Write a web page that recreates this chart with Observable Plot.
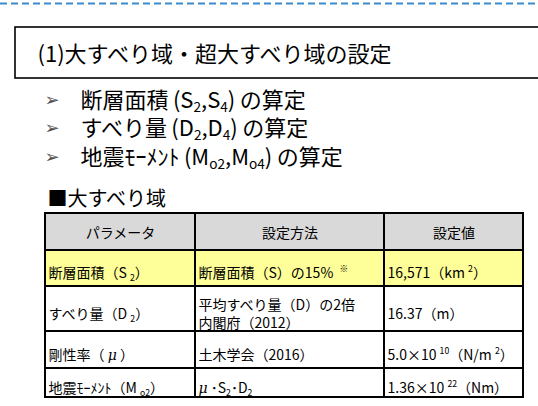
<!DOCTYPE html>
<html>
<head>
<meta charset="utf-8">
<script src="https://cdn.jsdelivr.net/npm/d3@7"></script>
<script src="https://cdn.jsdelivr.net/npm/@observablehq/plot@0.6"></script>
<style>
  html, body { margin: 0; padding: 0; background: #fff; overflow: hidden; }
  #chart svg { display: block; }
</style>
</head>
<body>
<div id="chart"></div>
<script>
// ---- Content (text and values) ----
// Markup: _x / _{xy} = subscript, ^x / ^{xy} = superscript, ~x / ~{xy} = italic
const sectionTitle = "(1)大すべり域・超大すべり域の設定";
const bulletItems = [
  "断層面積\u2009(S_2,S_4)\u2009の算定",
  "すべり量\u2009(D_2,D_4)\u2009の算定",
  "地震ﾓｰﾒﾝﾄ\u2009(M_{o2},M_{o4})\u2009の算定"
];
const bulletSymbol = "➢";
const tableTitle = "■大すべり域";
const headers = ["パラメータ", "設定方法", "設定値"];
const parameters = ["断層面積（S _2）", "すべり量（D _2）", "剛性率（ ~μ ）", "地震ﾓｰﾒﾝﾄ（M _{o2}）"];
const methods = ["断層面積（S）の15%  ^※", "平均すべり量（D）の2倍\n内閣府（2012）", "土木学会（2016）", "~μ ･S_2･D_2"];
const values = ["16,571（km ^2）", "16.37（m）", "5.0×10 ^{10}（N/m ^2）", "1.36×10 ^{22}（Nm）"];
const highlightedParameters = ["断層面積（S _2）"];

// ---- Layout (pixels) ----
const W = 538, H = 406;
const dashY = 3;
const boxEdges = {x1: 15, x2: W + 10, y1: 27, y2: 78};
const titlePos = {x: 37, y: 54};
const bulletX = 44, bulletTextX = 80;
const bulletYs = [100, 128, 157];
const tableTitlePos = {x: 47, y: 199};
const colEdges = [45, 195, 384, 523];
const rowEdges = [213, 250, 286, 331, 368, 397];
const cellPad = 3;

const FONT = "'Noto Sans CJK JP', 'Noto Sans', sans-serif";

// ---- Build table cells ----
const cells = [];
headers.forEach((h, c) => cells.push({row: 0, col: c, text: h, kind: "header"}));
parameters.forEach((p, i) => {
  const hl = highlightedParameters.includes(p);
  [p, methods[i], values[i]].forEach((t, c) =>
    cells.push({row: i + 1, col: c, text: t, kind: hl ? "highlight" : "body"}));
});
const fills = {header: "#d9d9d9", highlight: "#ffff99", body: "#ffffff"};
const rowMid = r => (rowEdges[r] + rowEdges[r + 1]) / 2;

const bullets = bulletItems.map((t, i) => ({text: t, y: bulletYs[i]}));

const plot = Plot.plot({
  width: W,
  height: H,
  margin: 0,
  x: {type: "linear", domain: [0, W], range: [0, W], axis: null},
  y: {type: "linear", domain: [0, H], range: [0, H], axis: null},
  style: {fontFamily: FONT, background: "#fff", color: "#000"},
  marks: [
    // dashed top separator
    Plot.ruleY([dashY], {x1: 0, x2: W, stroke: "#3a8ad0", strokeWidth: 2, strokeDasharray: "7,4"}),
    // section title box
    Plot.rect([boxEdges], {x1: "x1", x2: "x2", y1: "y1", y2: "y2", fill: "#fff", stroke: "#000", strokeWidth: 1.6}),
    Plot.text([sectionTitle], {x: titlePos.x, y: titlePos.y, text: d => d, textAnchor: "start", lineAnchor: "middle", fontSize: 22, fill: "#000"}),
    // bullet list
    Plot.text(bullets, {x: bulletX, y: "y", text: () => bulletSymbol, textAnchor: "start", lineAnchor: "middle", fontSize: 18, fill: "#505050", fontFamily: "'DejaVu Sans', sans-serif"}),
    Plot.text(bullets, {x: bulletTextX, y: "y", text: "text", textAnchor: "start", lineAnchor: "middle", fontSize: 22, fill: "#000"}),
    // table title
    Plot.text([tableTitle], {x: tableTitlePos.x, y: tableTitlePos.y, text: d => d, textAnchor: "start", lineAnchor: "middle", fontSize: 20, fill: "#000"}),
    // table cells
    Plot.rect(cells, {
      x1: d => colEdges[d.col], x2: d => colEdges[d.col + 1],
      y1: d => rowEdges[d.row], y2: d => rowEdges[d.row + 1],
      fill: d => fills[d.kind], stroke: "#000", strokeWidth: 2
    }),
    // header texts
    Plot.text(cells.filter(d => d.kind === "header"), {
      x: d => (colEdges[d.col] + colEdges[d.col + 1]) / 2,
      y: d => rowMid(d.row) + 2,
      text: "text", textAnchor: "middle", lineAnchor: "middle", fontSize: 14, fill: "#000"
    }),
    // body texts
    Plot.text(cells.filter(d => d.kind !== "header"), {
      x: d => colEdges[d.col] + cellPad,
      y: d => rowMid(d.row) + 4,
      text: "text", textAnchor: "start", lineAnchor: "middle", fontSize: 14, lineHeight: 1.3, fill: "#000"
    })
  ]
});

document.getElementById("chart").appendChild(plot);

// Turn _x / ^x / ~x markup into styled tspans
function parseMarkup(s) {
  const segs = [];
  let buf = "";
  const kinds = {"_": "sub", "^": "super", "~": "italic"};
  for (let i = 0; i < s.length; i++) {
    const ch = s[i];
    if (kinds[ch]) {
      if (buf) { segs.push({kind: "normal", text: buf}); buf = ""; }
      let t;
      if (s[i + 1] === "{") {
        const end = s.indexOf("}", i + 2);
        t = s.slice(i + 2, end);
        i = end;
      } else {
        t = s[i + 1];
        i = i + 1;
      }
      segs.push({kind: kinds[ch], text: t});
    } else {
      buf += ch;
    }
  }
  if (buf) segs.push({kind: "normal", text: buf});
  return segs;
}
const NS = "http://www.w3.org/2000/svg";
plot.querySelectorAll("text").forEach(t => {
  const spans = t.querySelectorAll("tspan");
  const targets = spans.length ? Array.from(spans) : [t];
  targets.forEach(el => {
    const s = el.textContent;
    if (!/[_^~]/.test(s)) return;
    const F = parseFloat(getComputedStyle(el).fontSize) || 14;
    el.textContent = "";
    parseMarkup(s).forEach(seg => {
      const ts = document.createElementNS(NS, "tspan");
      ts.textContent = seg.text;
      if (seg.kind === "sub" || seg.kind === "super") {
        ts.setAttribute("font-size", (F * 0.62).toFixed(2) + "px");
        ts.setAttribute("baseline-shift", seg.kind === "sub" ? (-0.2 * F).toFixed(2) + "px" : (0.42 * F).toFixed(2) + "px");
      } else if (seg.kind === "italic") {
        ts.setAttribute("font-style", "italic");
        ts.setAttribute("font-family", "'DejaVu Serif', serif");
      }
      el.appendChild(ts);
    });
  });
});
</script>
</body>
</html>
